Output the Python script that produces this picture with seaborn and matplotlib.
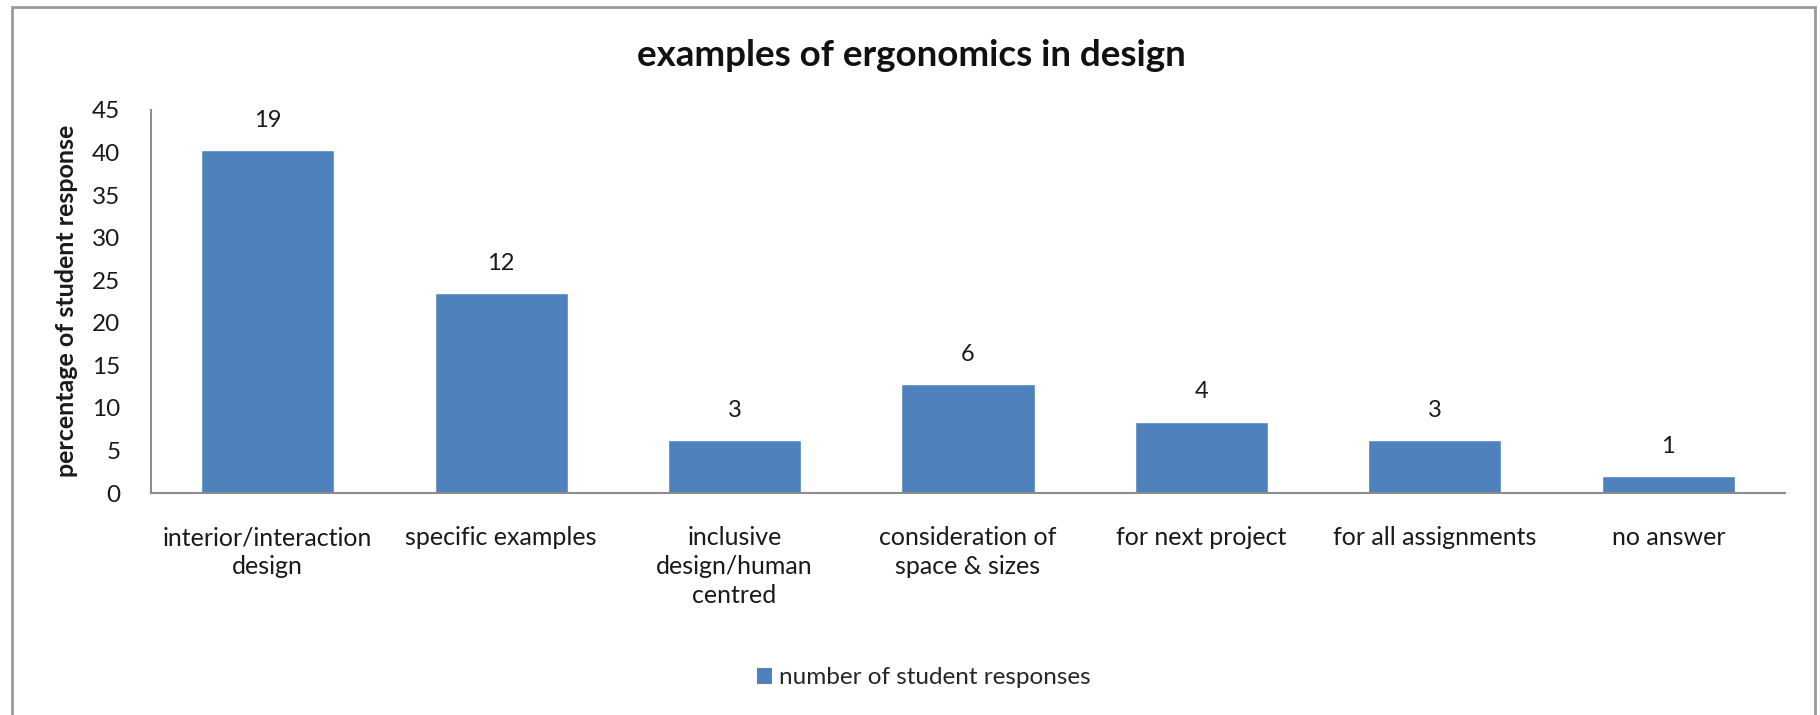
import matplotlib
matplotlib.use("Agg")
import matplotlib.pyplot as plt
import seaborn as sns
from matplotlib.patches import Rectangle, Patch

categories = [
    "interior/interaction\ndesign",
    "specific examples",
    "inclusive\ndesign/human\ncentred",
    "consideration of\nspace & sizes",
    "for next project",
    "for all assignments",
    "no answer",
]
percentages = [40.3, 23.5, 6.2, 12.8, 8.4, 6.2, 2.0]
counts = [19, 12, 3, 6, 4, 3, 1]
yticks = [0, 5, 10, 15, 20, 25, 30, 35, 40, 45]

title = "examples of ergonomics in design"
ylabel = "percentage of student response"
series_name = "number of student responses"

sns.set_theme(style="white")
plt.rcParams["font.family"] = ["Lato", "DejaVu Sans"]

W, H = 1820, 715
fig = plt.figure(figsize=(W / 100, H / 100), dpi=100)
ax = fig.add_axes([151 / W, 1 - 493 / H, (1785 - 151) / W, (493 - 110) / H])

bar_color = "#4F81BD"
sns.barplot(x=categories, y=percentages, color=bar_color, width=0.57,
            saturation=1, ax=ax, order=categories)

ax.set_ylim(0, 45)
ax.set_yticks(yticks)
ax.set_yticklabels([str(t) for t in yticks], fontsize=17.5, color="#1a1a1a")
ax.tick_params(axis="both", length=0)
ax.tick_params(axis="y", pad=22)
ax.tick_params(axis="x", pad=24)
for lab in ax.get_xticklabels():
    lab.set_fontsize(18)
    lab.set_color("#1a1a1a")
    lab.set_verticalalignment("top")
    lab.set_linespacing(1.32)

for side in ["top", "right"]:
    ax.spines[side].set_visible(False)
for side in ["left", "bottom"]:
    ax.spines[side].set_color("#8c8c8c")
    ax.spines[side].set_linewidth(1.5)

ax.bar_label(ax.containers[0], labels=[str(c) for c in counts],
             padding=14, fontsize=17, color="#1a1a1a")

ax.set_xlabel("")
ax.set_ylabel("")
fig.text(67 / W, 1 - 301 / H, ylabel, rotation=90, ha="center", va="center",
         fontsize=18, fontweight="bold", color="#1a1a1a")

fig.text(911 / W, 1 - 56 / H, title, ha="center", va="center",
         fontsize=26.5, fontweight="bold", color="#111111")

handles = [Patch(facecolor=bar_color, edgecolor="none", label=series_name)]
fig.legend(handles=handles, loc="center", bbox_to_anchor=(924 / W, 1 - 678 / H),
           frameon=False, fontsize=17.5, handlelength=0.6, handleheight=0.6,
           handletextpad=0.3)

border = Rectangle((12 / W, -0.05), (1815 - 12) / W, (1 - 7 / H) + 0.05,
                   transform=fig.transFigure, fill=False, edgecolor="#9a9a9a",
                   linewidth=2)
fig.add_artist(border)

fig.savefig("out.png", dpi=100, facecolor="white")
